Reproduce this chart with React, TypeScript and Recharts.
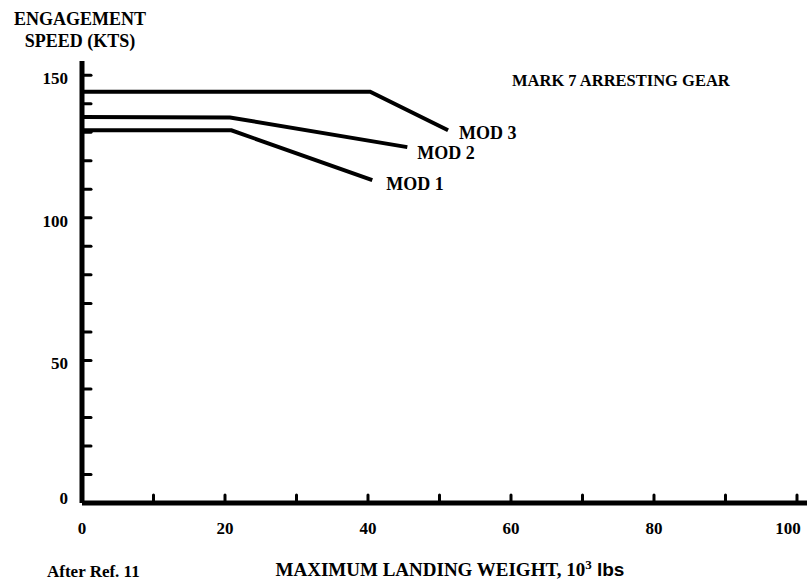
import { Line, LineChart, XAxis, YAxis } from 'recharts';

const xTicks = [0, 10, 20, 30, 40, 50, 60, 70, 80, 90, 100];
const yTicks = [0, 10, 20, 30, 40, 50, 60, 70, 80, 90, 100, 110, 120, 130, 140, 150];

const mod1 = [
  { w: 0, v: 130.7 },
  { w: 20.9, v: 130.7 },
  { w: 40.6, v: 113.2 },
];
const mod2 = [
  { w: 0, v: 135.4 },
  { w: 20.7, v: 135.2 },
  { w: 45.5, v: 124.8 },
];
const mod3 = [
  { w: 0, v: 144.2 },
  { w: 40.3, v: 144.2 },
  { w: 51.2, v: 130.7 },
];

const FONT = '"Liberation Serif", "Times New Roman", serif';

function XTick({ x, y, payload }: any) {
  const v = payload.value;
  return (
    <g>
      {v !== 0 && <line x1={x} y1={y - 1} x2={x} y2={y - 8} stroke="#000" strokeWidth={3} strokeLinecap="round" />}
      {v % 20 === 0 && (
        <text x={v === 100 ? x - 9 : x} y={y + 31} textAnchor="middle" fontFamily={FONT} fontWeight="bold" fontSize={17} fill="#000">
          {v}
        </text>
      )}
    </g>
  );
}

function YTick({ x, y, payload }: any) {
  const v = payload.value;
  return (
    <g>
      {v !== 0 && <line x1={x + 1} y1={y} x2={x + 9} y2={y} stroke="#000" strokeWidth={3} strokeLinecap="round" />}
      {v % 50 === 0 && (
        <text x={x - 14} y={v === 0 ? y + 1 : y + 9} textAnchor="end" fontFamily={FONT} fontWeight="bold" fontSize={17} fill="#000">
          {v}
        </text>
      )}
    </g>
  );
}

function endLabel(text: string, lastIndex: number, dx: number, dy: number) {
  return (props: any) => {
    if (props.index !== lastIndex) return null;
    return (
      <text x={props.x + dx} y={props.y + dy + 6} fontFamily={FONT} fontWeight="bold" fontSize={18} fill="#000">
        {text}
      </text>
    );
  };
}

export default function App() {
  return (
    <div style={{ position: 'absolute', left: 0, top: 0, width: 807, height: 582, background: '#fff' }}>
      <LineChart width={807} height={582} data={mod1} margin={{ top: 61, right: 0, left: 22, bottom: 49 }}>
        <XAxis
          dataKey="w"
          type="number"
          domain={[0, 101.4]}
          ticks={xTicks}
          allowDataOverflow
          axisLine={{ stroke: '#000', strokeWidth: 5 }}
          tickLine={false}
          tickSize={0}
          tickMargin={0}
          tick={<XTick />}
          height={30}
          interval={0}
        />
        <YAxis
          type="number"
          domain={[0, 155]}
          ticks={yTicks}
          allowDataOverflow
          axisLine={{ stroke: '#000', strokeWidth: 5 }}
          tickLine={false}
          tickSize={0}
          tickMargin={0}
          tick={<YTick />}
          width={60}
          interval={0}
        />
        <Line data={mod1} dataKey="v" type="linear" stroke="#000" strokeWidth={4} dot={false} isAnimationActive={false} label={endLabel('MOD 1', mod1.length - 1, 14, 4)} />
        <Line data={mod2} dataKey="v" type="linear" stroke="#000" strokeWidth={4} dot={false} isAnimationActive={false} label={endLabel('MOD 2', mod2.length - 1, 10, 6)} />
        <Line data={mod3} dataKey="v" type="linear" stroke="#000" strokeWidth={4} dot={false} isAnimationActive={false} label={endLabel('MOD 3', mod3.length - 1, 11, 3)} />
      </LineChart>
      <svg width={807} height={582} style={{ position: 'absolute', left: 0, top: 0, pointerEvents: 'none' }}>
        <g fontFamily={FONT} fontWeight="bold" fill="#000">
          <text x={80} y={25} textAnchor="middle" fontSize={18}>ENGAGEMENT</text>
          <text x={80} y={47} textAnchor="middle" fontSize={18}>SPEED (KTS)</text>
          <text x={512} y={86} fontSize={16.5}>MARK 7 ARRESTING GEAR</text>
          <text x={450} y={576} textAnchor="middle" fontSize={19}>
            MAXIMUM LANDING WEIGHT, 10
            <tspan dy={-7} fontSize={13}>3</tspan>
            <tspan dy={7} fontFamily='"Liberation Sans Narrow", "Liberation Sans", sans-serif'> lbs</tspan>
          </text>
          <text x={47} y={577} fontSize={17}>After Ref. 11</text>
        </g>
      </svg>
    </div>
  );
}
